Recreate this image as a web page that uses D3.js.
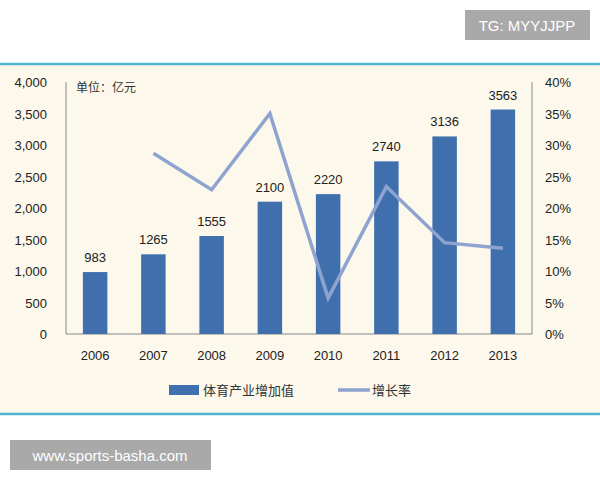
<!DOCTYPE html><html><head><meta charset="utf-8"><script src="https://cdn.jsdelivr.net/npm/d3@7"></script>
<style>body{margin:0;background:#fff}</style></head><body><svg id="c" width="600" height="480"></svg><script>
const years=["2006","2007","2008","2009","2010","2011","2012","2013"];
const values=[983,1265,1555,2100,2220,2740,3136,3563];
const growth=[null,28.7,22.9,35.0,5.7,23.4,14.5,13.6];
const leftTicks=[0,500,1000,1500,2000,2500,3000,3500,4000];
const rightTicks=[0,5,10,15,20,25,30,35,40];
const svg=d3.select("#c");
const f="'Liberation Sans',Arial,sans-serif", cjk="'Noto Sans CJK SC',sans-serif";
svg.append("rect").attr("x",0).attr("y",64).attr("width",600).attr("height",350).attr("fill","#fcf8ec");
svg.append("line").attr("x1",0).attr("x2",600).attr("y1",64).attr("y2",64).attr("stroke","#4fb6d1").attr("stroke-width",2.5);
svg.append("line").attr("x1",0).attr("x2",600).attr("y1",414).attr("y2",414).attr("stroke","#4fb6d1").attr("stroke-width",2.5);
const x=d3.scaleBand().domain(years).range([66,532]).paddingInner(0.58).paddingOuter(0.29);
const y=d3.scaleLinear().domain([0,4000]).range([334,82]);
const y2=d3.scaleLinear().domain([0,40]).range([334,82]);
const g=svg.append("g");
g.append("line").attr("x1",66).attr("x2",66).attr("y1",82).attr("y2",334).attr("stroke","#888");
g.append("line").attr("x1",532).attr("x2",532).attr("y1",82).attr("y2",334).attr("stroke","#888");
g.append("line").attr("x1",66).attr("x2",532).attr("y1",334).attr("y2",334).attr("stroke","#888");
g.selectAll(".lt").data(leftTicks).join("text").attr("x",47).attr("y",d=>y(d)+5).attr("text-anchor","end").attr("font-family",f).attr("font-size",13).attr("fill","#222").text(d=>d3.format(",")(d));
g.selectAll(".rt").data(rightTicks).join("text").attr("x",545).attr("y",d=>y2(d)+5).attr("font-family",f).attr("font-size",13).attr("fill","#222").text(d=>d+"%");
g.selectAll(".xt").data(years).join("text").attr("x",d=>x(d)+x.bandwidth()/2).attr("y",360).attr("text-anchor","middle").attr("font-family",f).attr("font-size",13).attr("fill","#222").text(d=>d);
const bw=x.bandwidth();
g.selectAll(".b").data(values).join("rect").attr("x",(d,i)=>x(years[i])).attr("y",d=>y(d)).attr("width",bw).attr("height",d=>334-y(d)).attr("fill","#3f6fad");
g.selectAll(".bl").data(values).join("text").attr("x",(d,i)=>x(years[i])+bw/2).attr("y",d=>y(d)-10).attr("text-anchor","middle").attr("font-family",f).attr("font-size",13).attr("fill","#222").text(d=>d);
const pts=growth.map((v,i)=>[years[i],v]).filter(d=>d[1]!=null);
g.append("path").datum(pts).attr("fill","none").attr("stroke","#8fa3d0").attr("stroke-width",3.5)
 .attr("d",d3.line().x(d=>x(d[0])+bw/2).y(d=>y2(d[1])));
svg.append("text").attr("x",76).attr("y",92).attr("font-family",cjk).attr("font-size",12).attr("fill","#333").text("单位：亿元");
svg.append("rect").attr("x",169).attr("y",385).attr("width",30).attr("height",10).attr("fill","#3f6fad");
svg.append("text").attr("x",203).attr("y",395).attr("font-family",cjk).attr("font-size",13).attr("fill","#333").text("体育产业增加值");
svg.append("line").attr("x1",338).attr("x2",370).attr("y1",390).attr("y2",390).attr("stroke","#8fa3d0").attr("stroke-width",3.5);
svg.append("text").attr("x",372).attr("y",395).attr("font-family",cjk).attr("font-size",13).attr("fill","#333").text("增长率");
svg.append("rect").attr("x",465).attr("y",10).attr("width",125).attr("height",30).attr("fill","#a9a9a9");
svg.append("text").attr("x",527).attr("y",31).attr("text-anchor","middle").attr("font-family",f).attr("font-size",15).attr("fill","#fff").text("TG: MYYJJPP");
svg.append("rect").attr("x",10).attr("y",440).attr("width",201).attr("height",30).attr("fill","#a9a9a9");
svg.append("text").attr("x",110).attr("y",461).attr("text-anchor","middle").attr("font-family",f).attr("font-size",15).attr("fill","#fff").text("www.sports-basha.com");
</script></body></html>
